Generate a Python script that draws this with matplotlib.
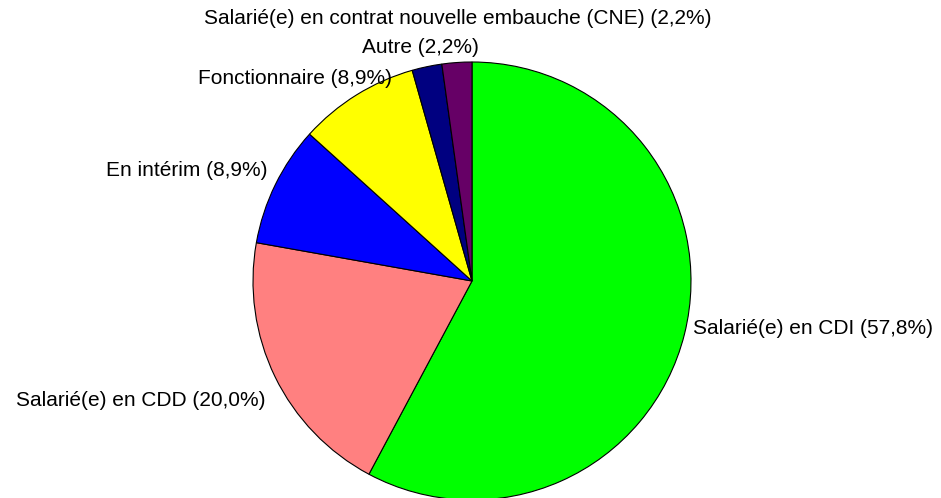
import matplotlib
matplotlib.use("Agg")
import matplotlib.pyplot as plt

plt.rcParams['font.family'] = ['Liberation Sans', 'DejaVu Sans']

# data (clockwise from 12 o'clock)
labels = ["Salarié(e) en CDI", "Salarié(e) en CDD", "En intérim",
          "Fonctionnaire", "Salarié(e) en contrat nouvelle embauche (CNE)", "Autre"]
values = [57.8, 20.0, 8.9, 8.9, 2.2, 2.2]
colors = ["#00FF00", "#FF8080", "#0000FF", "#FFFF00", "#000080", "#660066"]

W, H = 941, 498
fig = plt.figure(figsize=(W / 100, H / 100), dpi=100)
ax = fig.add_axes([0, 0, 1, 1])

cx, cy, r = 472, H - 281, 219
ax.pie(values, colors=colors, startangle=90, counterclock=False,
       center=(cx, cy), radius=r, frame=True,
       wedgeprops=dict(edgecolor="black", linewidth=0.8))
ax.set_xlim(0, W)
ax.set_ylim(0, H)
ax.set_aspect("equal")
ax.axis("off")

# label placement in pixel coords (x, y from top, alignment)
pos = [(693, 328, "left"), (266, 401, "right"), (268, 170, "right"),
       (392, 78, "right"), (458, 18, "center"), (420, 47, "center")]
for lab, v, (x, y, ha) in zip(labels, values, pos):
    txt = f"{lab} ({v:.1f}%)".replace(".", ",")
    ax.text(x, H - y, txt, ha=ha, va="center", fontsize=15)

fig.savefig("out.png", dpi=100)
